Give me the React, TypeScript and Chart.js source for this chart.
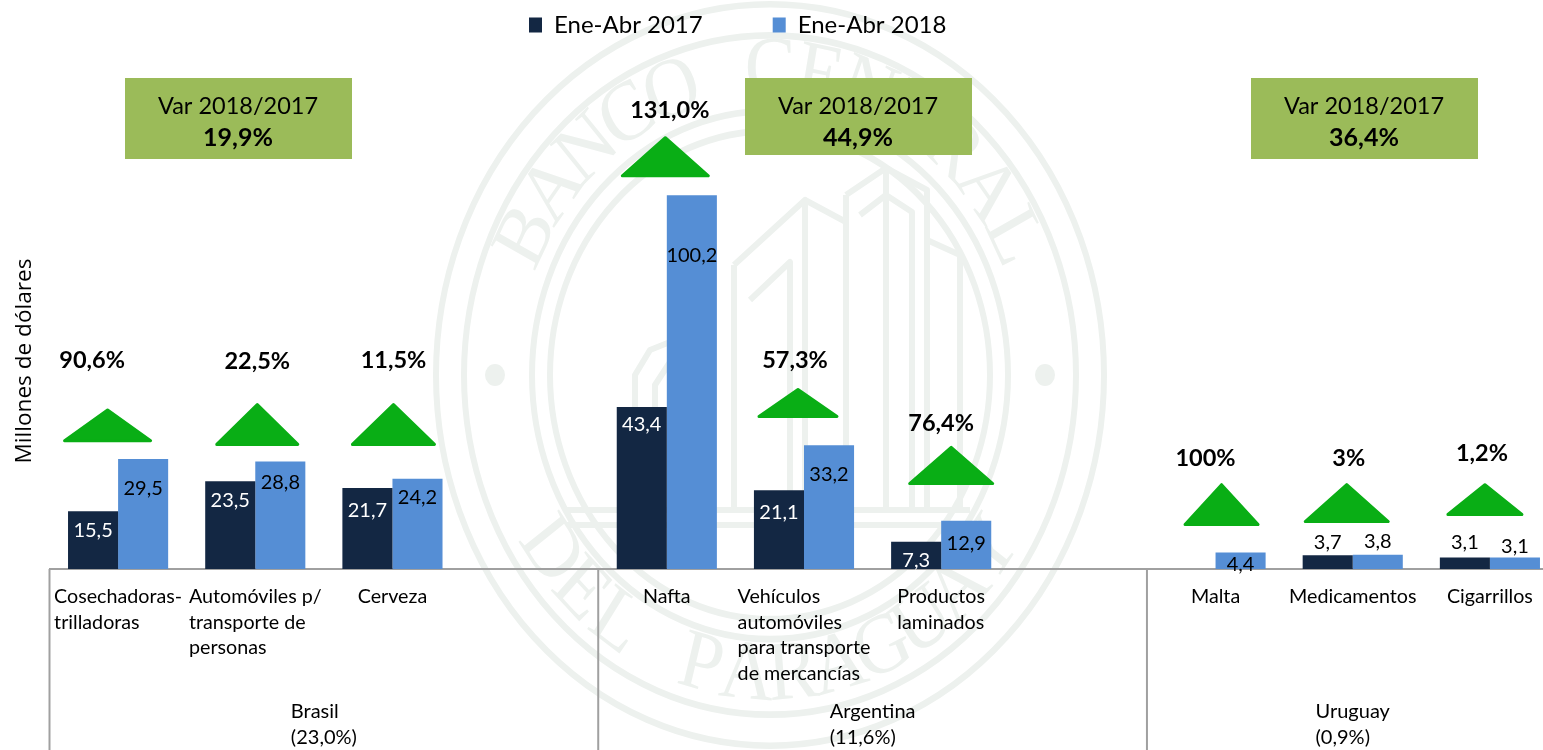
import React, { useEffect, useRef } from "react";
import { Chart, registerables } from "chart.js";

Chart.register(...registerables);

const FONT = "Lato";

const categories = ["Cosechadoras-trilladoras", "Automóviles p/ transporte de personas", "Cerveza", "", "Nafta", "Vehículos automóviles para transporte de mercancías", "Productos laminados", "", "Malta", "Medicamentos", "Cigarrillos"];
const categoryLines = [["Cosechadoras-", "trilladoras"], ["Automóviles p/", "transporte de", "personas"], ["Cerveza"], [], ["Nafta"], ["Vehículos", "automóviles", "para transporte", "de mercancías"], ["Productos", "laminados"], [], ["Malta"], ["Medicamentos"], ["Cigarrillos"]];
const values2017 = [15.5, 23.5, 21.7, null, 43.4, 21.1, 7.3, null, null, 3.7, 3.1];
const values2018 = [29.5, 28.8, 24.2, null, 100.2, 33.2, 12.9, null, 4.4, 3.8, 3.1];
const seriesNames = ["Ene-Abr 2017", "Ene-Abr 2018"];
const variationLabels = ["90,6%", "22,5%", "11,5%", "", "131,0%", "57,3%", "76,4%", "", "100%", "3%", "1,2%"];
const groupNames = [["Brasil", "(23,0%)"], ["Argentina", "(11,6%)"], ["Uruguay", "(0,9%)"]];
const groupSpans = [[0, 3], [4, 7], [8, 10]];
const groupVariation = ["19,9%", "44,9%", "36,4%"];
const boxTitle = "Var 2018/2017";
const yAxisTitle = "Millones de dólares";

// layout tables (separate from the data): offsets of labels and markers
const labelDrop2017 = [19, 19, 23, 0, 17, 22, 19, 0, 0, -13, -15];
const labelDrop2018 = [30, 21, 19, 0, 60, 29, 23, 0, 12, -13, -11];
const triBaseValue = [34, 33, 33, 0, 105, 40.5, 22.5, 0, 11.5, 12.3, 14.2];
const triTopValue = [43, 44.5, 44.5, 0, 116, 48.5, 33, 0, 23, 23, 23];
const triDx = [-10.5, 2, 1, 0, -1.5, -6, 10, 0, 6, -6, -5];
const triHalf = [44.5, 42, 42.5, 0, 44.5, 40.5, 43, 0, 38, 43, 38.5];
const pctX = [-26, 2, 1, 0, 3, -9, 0, 0, -10, -4, -8];
const pctValue = [56, 55.7, 56, 0, 123, 56, 39, 0, 29.7, 29.7, 31];
const boxLeft = [125, 745, 1251];
const boxBottom = [159, 155, 159];

const AXIS = "#A0A0A0";
const WM = "#EDF1EE";

function arcText(ctx: CanvasRenderingContext2D, text: string, r: number, mid: number, step: number, bottom: boolean) {
  const n = text.length;
  for (let i = 0; i < n; i++) {
    const a = mid + (i - (n - 1) / 2) * step * (bottom ? -1 : 1);
    ctx.save();
    ctx.translate(r * Math.cos(a), r * Math.sin(a));
    ctx.rotate(bottom ? a - Math.PI / 2 : a + Math.PI / 2);
    ctx.fillText(text[i], 0, 0);
    ctx.restore();
  }
}

const buildingLines = [
  [[846, 195], [846, 510]],
  [[846, 195], [886, 168], [927, 190], [927, 510]],
  [[886, 168], [886, 510]],
  [[860, 215], [886, 195], [912, 212], [912, 510]],
  [[734, 265], [805, 200], [805, 510]],
  [[734, 265], [734, 510]],
  [[750, 300], [790, 262], [790, 510]],
  [[805, 200], [846, 222]],
  [[927, 240], [960, 255], [960, 510]],
  [[635, 510], [635, 375], [650, 350], [675, 340], [695, 350]],
  [[655, 510], [655, 385], [670, 362], [695, 358]],
  [[567, 510], [970, 510]],
  [[567, 525], [970, 525]],
];

const watermark = {
  id: "watermark",
  beforeDraw(chart: any) {
    const ctx = chart.ctx;
    const cx = 770, cy = 375;
    ctx.save();
    ctx.strokeStyle = WM;
    ctx.fillStyle = WM;
    ctx.lineWidth = 6;
    ctx.lineJoin = "round";
    buildingLines.forEach((pts) => {
      ctx.beginPath();
      pts.forEach(([px, py], i) => (i ? ctx.lineTo(px, py) : ctx.moveTo(px, py)));
      ctx.stroke();
    });
    ctx.translate(cx, cy);
    ctx.scale(1, 1.11);
    [334, 306, 238, 220].forEach((r) => {
      ctx.beginPath();
      ctx.arc(0, 0, r, 0, Math.PI * 2);
      ctx.stroke();
    });
    [-275, 275].forEach((d) => {
      ctx.beginPath();
      ctx.arc(d, 0, 10, 0, Math.PI * 2);
      ctx.fill();
    });
    ctx.font = `76px "Liberation Serif"`;
    ctx.textAlign = "center";
    ctx.textBaseline = "middle";
    arcText(ctx, "BANCO CENTRAL", 272, -Math.PI / 2, 0.183, false);
    arcText(ctx, "DEL PARAGUAY", 272, Math.PI / 2, 0.172, true);
    ctx.restore();
  },
};

const annotations = {
  id: "annotations",
  afterLayout(chart: any) {
    chart.legend.left = 459;
    chart.legend.top = -57;
  },
  afterDatasetsDraw(chart: any) {
    const { ctx, scales: { x, y } } = chart;
    ctx.save();
    const tx = (i: number) => x.getPixelForValue(i);

    // bar value labels
    ctx.textBaseline = "middle";
    ctx.textAlign = "center";
    ctx.font = `20px ${FONT}`;
    chart.data.datasets.forEach((ds: any, d: number) => {
      const meta = chart.getDatasetMeta(d);
      const drop = d === 0 ? labelDrop2017 : labelDrop2018;
      ds.data.forEach((v: number | null, i: number) => {
        if (v === null) return;
        const el = meta.data[i];
        ctx.fillStyle = d === 0 && drop[i] > 0 ? "#FFFFFF" : "#000000";
        ctx.fillText(v.toFixed(1).replace(".", ","), el.x, el.y + drop[i]);
      });
    });

    // axis separators
    ctx.strokeStyle = AXIS;
    ctx.lineWidth = 2;
    const bottom = y.getPixelForValue(0);
    const edges = groupSpans.map(([a]) => tx(a) - x.width / categories.length / 2);
    edges.forEach((e) => {
      ctx.beginPath();
      ctx.moveTo(e, bottom);
      ctx.lineTo(e, chart.height);
      ctx.stroke();
    });

    // category labels: lines flush left inside a centred block
    ctx.fillStyle = "#000000";
    ctx.font = `19.7px ${FONT}`;
    ctx.textAlign = "left";
    categoryLines.forEach((lines, i) => {
      if (!lines.length) return;
      const w = Math.max(...lines.map((l) => ctx.measureText(l).width));
      lines.forEach((l, j) => ctx.fillText(l, tx(i) - w / 2, 596.5 + j * 25.7));
    });

    // group labels
    ctx.font = `20px ${FONT}`;
    groupNames.forEach((lines, g) => {
      const [a, b] = groupSpans[g];
      const mid = (tx(a) + tx(b)) / 2;
      const w = Math.max(...lines.map((l) => ctx.measureText(l).width));
      lines.forEach((l, j) => ctx.fillText(l, mid - w / 2, 712 + j * 26));
    });

    // variation triangles and percentages
    variationLabels.forEach((label, i) => {
      if (!label) return;
      const cx = tx(i) + triDx[i];
      const base = y.getPixelForValue(triBaseValue[i]);
      const top = y.getPixelForValue(triTopValue[i]);
      ctx.fillStyle = "#09AE15";
      ctx.strokeStyle = "#09AE15";
      ctx.lineJoin = "round";
      ctx.lineWidth = 3;
      ctx.beginPath();
      ctx.moveTo(cx, top + 1.5);
      ctx.lineTo(cx + triHalf[i] - 1.5, base - 1.5);
      ctx.lineTo(cx - triHalf[i] + 1.5, base - 1.5);
      ctx.closePath();
      ctx.fill();
      ctx.stroke();
      ctx.fillStyle = "#000000";
      ctx.textAlign = "center";
      ctx.font = `bold 23.5px ${FONT}`;
      ctx.fillText(label, tx(i) + pctX[i], y.getPixelForValue(pctValue[i]));
    });

    // green boxes
    groupVariation.forEach((v, g) => {
      ctx.fillStyle = "#9BBB59";
      ctx.fillRect(boxLeft[g], 78, 227, boxBottom[g] - 78);
      ctx.fillStyle = "#000000";
      ctx.textAlign = "center";
      ctx.font = `23.5px ${FONT}`;
      ctx.fillText(boxTitle, boxLeft[g] + 113, 106);
      ctx.font = `bold 25px ${FONT}`;
      ctx.fillText(v, boxLeft[g] + 113, 138);
    });
    ctx.restore();
  },
};

export default function App() {
  const ref = useRef<HTMLCanvasElement>(null);
  useEffect(() => {
    const chart = new Chart(ref.current!, {
      type: "bar",
      data: {
        labels: categories,
        datasets: [
          { label: seriesNames[0], data: values2017, backgroundColor: "#132743" },
          { label: seriesNames[1], data: values2018, backgroundColor: "#558ED5" },
        ],
      },
      plugins: [watermark, annotations],
      options: {
        animation: false,
        responsive: false,
        layout: { padding: { top: 110, right: 1.5, bottom: 181, left: 0 } },
        datasets: { bar: { categoryPercentage: 100 / 137, barPercentage: 1 } },
        plugins: {
          tooltip: { enabled: false },
          legend: {
            position: "top",
            align: "start",
            maxHeight: 43,
            onClick: () => {},
            labels: { boxWidth: 13, boxHeight: 15, padding: 70, color: "#000000", font: { family: FONT, size: 24 } },
          },
        },
        scales: {
          x: {
            grid: { display: false, drawTicks: false },
            border: { color: AXIS, width: 2 },
            ticks: { display: false },
          },
          y: {
            min: 0,
            max: 111.5,
            grid: { display: false },
            border: { display: false },
            ticks: { display: false },
            afterFit: (s: any) => { s.width = 49.5; },
            title: { display: true, text: yAxisTitle, color: "#000000", font: { family: "Open Sans", size: 22.6 }, padding: { top: 11, bottom: 0 } },
          },
        },
      } as any,
    });
    return () => chart.destroy();
  }, []);
  return (
    <div style={{ position: "absolute", left: 0, top: 0, width: 1543, height: 750, overflow: "hidden", background: "#fff" }}>
      <canvas ref={ref} width={1560} height={750} style={{ display: "block" }} />
    </div>
  );
}
